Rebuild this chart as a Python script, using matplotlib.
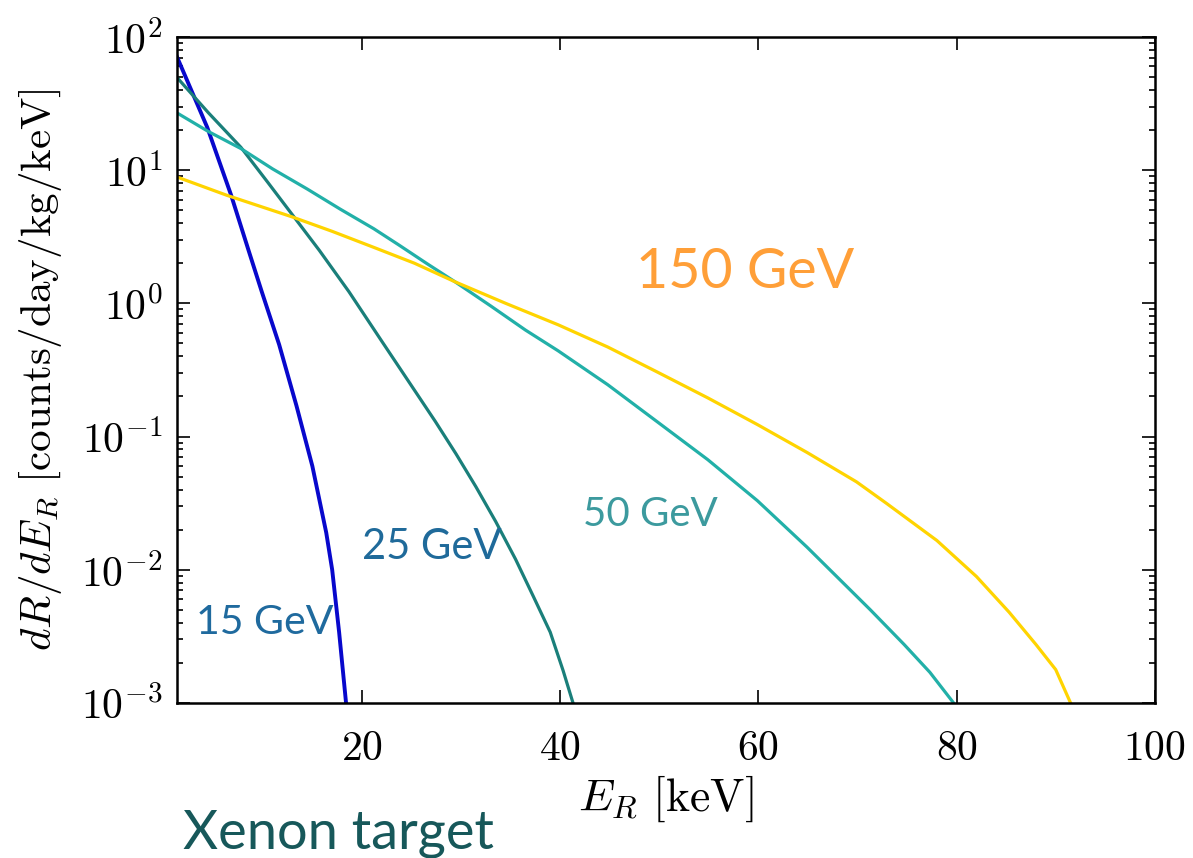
import matplotlib
matplotlib.use('Agg')
import matplotlib.pyplot as plt
from matplotlib.ticker import FixedLocator

plt.rcParams['mathtext.fontset'] = 'cm'
plt.rcParams['font.family'] = 'serif'
plt.rcParams['font.serif'] = ['cmr10']
plt.rcParams['axes.formatter.use_mathtext'] = True
plt.rcParams['axes.unicode_minus'] = False

# recoil spectra for a xenon target, dR/dE_R vs E_R [keV]
e_15 = [1.3, 4.4, 6.8, 8.6, 9.9, 11.65, 13.4, 15.0, 16.4, 17.0, 17.7, 18.4]
r_15 = [72.0, 20.9, 6.5, 2.45, 1.22, 0.49, 0.17, 0.060, 0.019, 0.010, 0.0034, 0.001]

e_25 = [1.3, 4.5, 7.8, 10.5, 13.2, 15.7, 18.7, 22.0, 24.7, 27.4, 29.5, 31.5,
        33.5, 35.5, 37.3, 39.0, 40.3, 41.3]
r_25 = [50.0, 27.0, 14.8, 8.1, 4.4, 2.5, 1.22, 0.52, 0.26, 0.13, 0.074, 0.042,
        0.023, 0.012, 0.0063, 0.0034, 0.00175, 0.001]

e_50 = [1.3, 4.5, 7.8, 11.0, 14.5, 17.8, 21.2, 23.7, 26.5, 29.4, 33.0, 36.5,
        39.8, 44.8, 49.8, 54.9, 59.9, 64.9, 67.9, 71.3, 74.7, 77.3, 79.7]
r_50 = [27.0, 19.5, 14.5, 10.2, 7.2, 5.1, 3.63, 2.75, 2.0, 1.45, 0.955, 0.63,
        0.44, 0.245, 0.129, 0.067, 0.033, 0.0148, 0.0089, 0.0050, 0.00275, 0.0017,
        0.001]

e_150 = [1.3, 6.4, 12.9, 17.0, 21.2, 25.3, 29.4, 34.5, 39.8, 44.8, 49.8, 54.9,
         59.9, 64.9, 69.9, 72.9, 78.0, 82.0, 85.3, 88.0, 90.0, 91.5]
r_150 = [8.9, 6.46, 4.47, 3.47, 2.63, 2.0, 1.45, 1.0, 0.69, 0.47, 0.305, 0.195,
         0.123, 0.076, 0.0457, 0.0316, 0.0166, 0.0089, 0.0048, 0.00275, 0.00178, 0.001]

fig = plt.figure(figsize=(11.93, 8.58), dpi=100)
ax = fig.add_axes([0.148, 0.1807, 0.82, 0.7763])

ax.semilogy(e_15, r_15, color='#0808cc', lw=2.8)
ax.semilogy(e_25, r_25, color='#1a7f7a', lw=2.3)
ax.semilogy(e_50, r_50, color='#22b0a8', lw=2.3)
ax.semilogy(e_150, r_150, color='#ffd400', lw=2.3)

ax.set_xlim(1.3, 100)
ax.set_ylim(1e-3, 1e2)
ax.xaxis.set_major_locator(FixedLocator([20, 40, 60, 80, 100]))

for side in ax.spines.values():
    side.set_linewidth(1.8)
ax.tick_params(which='both', direction='in', top=True, right=True, width=1.2)
ax.tick_params(which='major', length=9.5, labelsize=30)
ax.tick_params(which='minor', length=4.5)
ax.tick_params(axis='x', pad=20)
ax.tick_params(axis='y', pad=10)

ax.set_xlabel(r'$E_R\ [\mathrm{keV}]$', fontsize=33, labelpad=4)
ax.set_ylabel(r'$dR/dE_R\ [\mathrm{counts/day/kg/keV}]$', fontsize=31, labelpad=12)

lab = dict(family='Lato', ha='center', va='center')
fig.text(745 / 1193, 1 - 273 / 858, '150 GeV', color='#ff9f38', fontsize=40, **lab)
fig.text(650 / 1193, 1 - 514 / 858, '50 GeV', color='#3c9a9e', fontsize=29, **lab)
fig.text(432 / 1193, 1 - 547 / 858, '25 GeV', color='#1f6a9a', fontsize=30, **lab)
fig.text(265 / 1193, 1 - 622 / 858, '15 GeV', color='#1f6a9e', fontsize=29.5, **lab)
fig.text(183 / 1193, 1 - 848 / 858, 'Xenon target', color='#17585a', fontsize=39,
         family='Lato', ha='left', va='baseline')

fig.savefig('out.png', dpi=100)
